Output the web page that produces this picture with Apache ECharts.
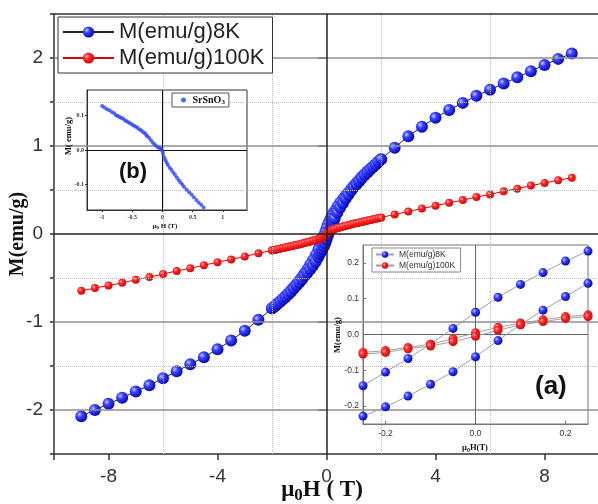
<!DOCTYPE html>
<html>
<head>
<meta charset="utf-8">
<script src="https://cdn.jsdelivr.net/npm/echarts@6/dist/echarts.min.js"></script>
<style>
  html, body { margin: 0; padding: 0; background: #fff; }
  #chart { width: 598px; height: 504px; }
</style>
</head>
<body>
<div id="chart"></div>
<script>
// Magnetisation loops M(H): field sweep down from +9 T to -9 T
const fieldDown = [9, 8.5, 8, 7.5, 7, 6.5, 6, 5.5, 5, 4.5, 4, 3.5, 3, 2.5, 2,
  1.9, 1.8, 1.7, 1.6, 1.5, 1.4, 1.3, 1.2, 1.1, 1, 0.9, 0.8, 0.7, 0.6, 0.5, 0.4, 0.3,
  0.25, 0.2, 0.15, 0.1, 0.05, 0, -0.05, -0.1, -0.15, -0.2, -0.25,
  -0.3, -0.4, -0.5, -0.6, -0.7, -0.8, -0.9, -1, -1.1, -1.2, -1.3, -1.4, -1.5, -1.6, -1.7, -1.8, -1.9,
  -2, -2.5, -3, -3.5, -4, -4.5, -5, -5.5, -6, -6.5, -7, -7.5, -8, -8.5, -9];
const m8kDown = [2.05, 1.99, 1.92, 1.85, 1.78, 1.71, 1.64, 1.57, 1.49, 1.41, 1.32, 1.22, 1.11, 0.98, 0.85,
  0.82, 0.79, 0.765, 0.74, 0.71, 0.68, 0.65, 0.615, 0.58, 0.545, 0.51, 0.47, 0.435, 0.395, 0.355, 0.31, 0.26,
  0.233, 0.205, 0.173, 0.14, 0.104, 0.062, 0.017, -0.027, -0.067, -0.105, -0.143,
  -0.18, -0.245, -0.3, -0.35, -0.4, -0.445, -0.49, -0.53, -0.57, -0.605, -0.64, -0.675, -0.705, -0.735, -0.765, -0.79, -0.82,
  -0.845, -0.975, -1.1, -1.21, -1.31, -1.4, -1.48, -1.56, -1.64, -1.72, -1.79, -1.86, -1.93, -2.0, -2.07];
const m100kDown = [0.64, 0.61, 0.58, 0.55, 0.515, 0.485, 0.45, 0.42, 0.385, 0.355, 0.32, 0.29, 0.255, 0.222, 0.188,
  0.181, 0.174, 0.167, 0.16, 0.153, 0.146, 0.139, 0.132, 0.125, 0.118, 0.11, 0.102, 0.094, 0.086, 0.078, 0.07, 0.061,
  0.055, 0.05, 0.041, 0.032, 0.02, 0.005, -0.012, -0.027, -0.036, -0.045, -0.05,
  -0.056, -0.066, -0.075, -0.084, -0.092, -0.1, -0.108, -0.116, -0.123, -0.13, -0.137, -0.144, -0.151, -0.158, -0.165, -0.172, -0.179,
  -0.186, -0.22, -0.255, -0.29, -0.32, -0.355, -0.39, -0.42, -0.455, -0.49, -0.52, -0.555, -0.585, -0.615, -0.645];

// Return sweep from -2 T to +2 T (outside this range the branches coincide)
const fieldUp = [-2, -1.9, -1.8, -1.7, -1.6, -1.5, -1.4, -1.3, -1.2, -1.1, -1, -0.9, -0.8, -0.7, -0.6, -0.5, -0.4, -0.3,
  -0.25, -0.2, -0.15, -0.1, -0.05, 0, 0.05, 0.1, 0.15, 0.2, 0.25,
  0.3, 0.4, 0.5, 0.6, 0.7, 0.8, 0.9, 1, 1.1, 1.2, 1.3, 1.4, 1.5, 1.6, 1.7, 1.8, 1.9, 2];
const m8kUp = [-0.845, -0.82, -0.795, -0.77, -0.74, -0.715, -0.685, -0.655, -0.62, -0.585, -0.55, -0.515, -0.475, -0.44, -0.4, -0.36, -0.315, -0.262,
  -0.228, -0.202, -0.172, -0.139, -0.104, -0.062, -0.017, 0.028, 0.068, 0.106, 0.143,
  0.178, 0.243, 0.3, 0.35, 0.4, 0.445, 0.49, 0.53, 0.565, 0.6, 0.635, 0.67, 0.7, 0.73, 0.76, 0.79, 0.82, 0.85];
const m100kUp = [-0.188, -0.181, -0.174, -0.167, -0.16, -0.153, -0.146, -0.139, -0.132, -0.125, -0.118, -0.11, -0.102, -0.094, -0.086, -0.078, -0.07, -0.061,
  -0.055, -0.05, -0.04, -0.032, -0.02, -0.005, 0.012, 0.027, 0.036, 0.045, 0.05,
  0.056, 0.066, 0.075, 0.084, 0.092, 0.1, 0.108, 0.116, 0.123, 0.13, 0.137, 0.144, 0.151, 0.158, 0.165, 0.172, 0.179, 0.186];

// SrSnO3 reference sample
const srField = [-1, -0.96, -0.92, -0.88, -0.84, -0.8, -0.77, -0.74, -0.71, -0.68, -0.65, -0.62, -0.59, -0.56, -0.53, -0.5,
  -0.47, -0.44, -0.41, -0.38, -0.35, -0.32, -0.29, -0.27, -0.25, -0.22, -0.19, -0.16, -0.13, -0.1, -0.07, -0.04, -0.02,
  0, 0.01, 0.03, 0.05, 0.07, 0.09, 0.12, 0.15, 0.18, 0.21, 0.24, 0.27, 0.3, 0.33, 0.36, 0.4, 0.44, 0.48, 0.52, 0.56, 0.6, 0.64, 0.68, 0.72];
const srMoment = [0.128, 0.124, 0.119, 0.116, 0.111, 0.107, 0.101, 0.099, 0.096, 0.093, 0.091, 0.086, 0.084, 0.08, 0.077, 0.074,
  0.071, 0.068, 0.064, 0.06, 0.057, 0.052, 0.049, 0.044, 0.04, 0.035, 0.028, 0.021, 0.016, 0.011, 0.007, 0.005, 0.003,
  -0.004, -0.012, -0.022, -0.03, -0.037, -0.044, -0.052, -0.058, -0.066, -0.073, -0.081, -0.088, -0.095, -0.101, -0.108, -0.116, -0.123, -0.13, -0.138, -0.146, -0.153, -0.16, -0.168, -0.176];

// Tick labels
const mainXLabels = [-8, -4, 0, 4, 8];
const mainXTicks = [-10, -8, -4, 0, 4, 8, 10];
const mainYLabels = [-2, -1, 0, 1, 2];
const insetAXLabels = [-0.2, 0, 0.2];
const insetAYLabels = [-0.2, -0.1, 0, 0.1, 0.2];
const insetBXLabels = [-1, -0.5, 0, 0.5, 1];
const insetBYLabels = [-0.1, 0, 0.1];

const name8k = 'M(emu/g)8K';
const name100k = 'M(emu/g)100K';
const name8kIn = 'M(emu/g)8K ';
const name100kIn = 'M(emu/g)100K ';

const pairs = (xs, ys) => xs.map((x, i) => [x, ys[i]]);

const blueBall = { type: 'radial', x: 0.35, y: 0.35, r: 0.7,
  colorStops: [{ offset: 0, color: '#c6caff' }, { offset: 0.35, color: '#3a44ff' }, { offset: 1, color: '#0000b8' }] };
const redBall = { type: 'radial', x: 0.35, y: 0.35, r: 0.7,
  colorStops: [{ offset: 0, color: '#ffb8b8' }, { offset: 0.35, color: '#ff2a2a' }, { offset: 1, color: '#d40000' }] };

const serifBold = { fontFamily: 'Liberation Serif', fontWeight: 'bold', fill: '#111', color: '#111' };
const noLine = { show: false };

function vline(v, color, type, width) { return { xAxis: v, lineStyle: { color: color, type: type, width: width } }; }
function hline(v, color, type, width) { return { yAxis: v, lineStyle: { color: color, type: type, width: width } }; }
function guide(xi, yi, z, lines) {
  return { type: 'line', xAxisIndex: xi, yAxisIndex: yi, data: [], z: z, silent: true,
    markLine: { silent: true, symbol: 'none', label: { show: false }, animation: false,
      emphasis: { disabled: true }, data: lines } };
}

function loopSeries(name, xi, yi, xs, ys, lineColor, ball, size, z) {
  return { name: name, type: 'line', xAxisIndex: xi, yAxisIndex: yi, data: pairs(xs, ys), z: z,
    symbol: 'circle', symbolSize: size, showSymbol: true,
    lineStyle: { color: lineColor, width: 1 }, itemStyle: { color: ball }, emphasis: { disabled: true } };
}

// axis titles drawn as text blocks centred on (x, y)
function title(x, y, text, rich, rotate) {
  return { type: 'text', x: x, y: y, rotation: rotate ? Math.PI / 2 : 0, z: 10, silent: true,
    style: { text: text, rich: rich, align: 'center', verticalAlign: 'middle', fill: '#111' } };
}
const fieldRich = (big, small, drop) => ({
  a: Object.assign({ fontSize: big }, serifBold),
  s: Object.assign({ fontSize: small, padding: [drop, 0, 0, 0] }, serifBold)
});

const option = {
  animation: false,
  backgroundColor: '#fff',
  grid: [
    { left: 54, top: 14, width: 545, height: 440, containLabel: false, outerBoundsMode: 'none' },
    { left: 363, top: 245, width: 225, height: 179, show: true, backgroundColor: 'rgba(0,0,0,0)', borderColor: '#777', borderWidth: 1, z: 3,
      containLabel: false, outerBoundsMode: 'none' },
    { left: 87, top: 90, width: 160, height: 120, show: true, backgroundColor: '#fff', borderColor: '#333', borderWidth: 1, z: 3,
      containLabel: false, outerBoundsMode: 'none' }
  ],
  legend: [
    { data: [name8k, name100k], orient: 'vertical', left: 58, top: 17, itemWidth: 51, itemHeight: 14, itemGap: 4,
      padding: [4, 8, 4, 4], borderColor: '#333', borderWidth: 1, backgroundColor: '#fff', z: 8,
      textStyle: { fontSize: 22, fontFamily: 'Liberation Sans', color: '#222' } },
    { data: [name8kIn, name100kIn], orient: 'vertical', left: 372, top: 248, itemWidth: 18, itemHeight: 8, itemGap: 2,
      padding: [2, 3, 2, 3], borderColor: '#888', borderWidth: 1, backgroundColor: '#fff', z: 8,
      textStyle: { fontSize: 8.5, fontFamily: 'Liberation Sans', color: '#333' } },
    { data: ['SrSnO3'], left: 172, top: 93, itemWidth: 8, itemHeight: 5, padding: [2, 4, 1, 9],
      borderColor: '#555', borderWidth: 1, backgroundColor: '#fff', z: 8,
      formatter: () => '{a|SrSnO}{s|3}',
      textStyle: { rich: { a: Object.assign({ fontSize: 10 }, serifBold), s: Object.assign({ fontSize: 7, padding: [5, 0, 0, 0] }, serifBold) } } }
  ],
  xAxis: [
    { type: 'value', gridIndex: 0, min: -10, max: 10, z: 2,
      axisLine: { onZero: false, lineStyle: { color: '#333', width: 1.5 } },
      axisTick: { customValues: mainXTicks, length: 6, lineStyle: { color: '#333', width: 1.5 } },
      axisLabel: { customValues: mainXLabels, fontSize: 19, fontFamily: 'Liberation Sans', color: '#333', margin: 13 },
      splitLine: noLine },
    { type: 'value', gridIndex: 0, min: -10, max: 10, position: 'top', z: 2,
      axisLine: { onZero: false, lineStyle: { color: '#333', width: 1.5 } },
      axisTick: noLine, axisLabel: noLine, splitLine: noLine },
    { type: 'value', gridIndex: 1, min: -0.25, max: 0.25, z: 4,
      axisLine: { onZero: false, lineStyle: { color: '#777', width: 1 } },
      axisTick: { customValues: insetAXLabels, inside: true, length: 3, lineStyle: { color: '#777' } },
      axisLabel: { customValues: insetAXLabels, formatter: v => v.toFixed(1), fontSize: 8.5, fontFamily: 'Liberation Sans', color: '#333', margin: 5 },
      splitLine: noLine },
    { type: 'value', gridIndex: 2, min: -1.25, max: 1.4, z: 4,
      axisLine: { onZero: false, lineStyle: { color: '#333', width: 1 } },
      axisTick: { customValues: insetBXLabels, length: 2, lineStyle: { color: '#333' } },
      axisLabel: { customValues: insetBXLabels, formatter: v => String(v), fontSize: 6, fontFamily: 'Liberation Serif', fontWeight: 'bold', color: '#333', margin: 4 },
      splitLine: noLine }
  ],
  yAxis: [
    { type: 'value', gridIndex: 0, min: -2.5, max: 2.5, interval: 0.5, z: 2,
      axisLine: { onZero: false, lineStyle: { color: '#333', width: 1.5 } },
      axisTick: { length: 4, lineStyle: { color: '#333', width: 1.5 } },
      axisLabel: { customValues: mainYLabels, fontSize: 19, fontFamily: 'Liberation Sans', color: '#333', margin: 11 },
      splitLine: noLine },
    { type: 'value', gridIndex: 0, min: -2.5, max: 2.5, position: 'left', z: 2,
      axisLine: { show: false },
      axisTick: { customValues: mainYLabels, length: 8, lineStyle: { color: '#333', width: 1.5 } },
      axisLabel: noLine, splitLine: noLine },
    { type: 'value', gridIndex: 1, min: -0.25, max: 0.25, z: 4,
      axisLine: { onZero: false, lineStyle: { color: '#777', width: 1 } },
      axisTick: { customValues: insetAYLabels, inside: true, length: 3, lineStyle: { color: '#777' } },
      axisLabel: { customValues: insetAYLabels, formatter: v => v.toFixed(1), fontSize: 8.5, fontFamily: 'Liberation Sans', color: '#333', margin: 4 },
      splitLine: noLine },
    { type: 'value', gridIndex: 2, min: -0.175, max: 0.175, z: 4,
      axisLine: { onZero: false, lineStyle: { color: '#333', width: 1 } },
      axisTick: { customValues: insetBYLabels, length: 2, lineStyle: { color: '#333' } },
      axisLabel: { customValues: insetBYLabels, formatter: v => v.toFixed(1), fontSize: 6, fontFamily: 'Liberation Serif', fontWeight: 'bold', color: '#333', margin: 3 },
      splitLine: noLine }
  ],
  series: [
    // main panel guide lines
    guide(0, 0, 1, [
      vline(-6, '#bdbdbd', 'dotted', 1), vline(-2, '#bdbdbd', 'dotted', 1),
      vline(2, '#bdbdbd', 'dotted', 1), vline(6, '#bdbdbd', 'dotted', 1),
      hline(-1.5, '#bdbdbd', 'dotted', 1), hline(-0.5, '#bdbdbd', 'dotted', 1),
      hline(0.5, '#bdbdbd', 'dotted', 1), hline(1.5, '#bdbdbd', 'dotted', 1),
      hline(-2, '#8f8f8f', 'solid', 1.5), hline(-1, '#8f8f8f', 'solid', 1.5),
      hline(1, '#8f8f8f', 'solid', 1.5), hline(2, '#8f8f8f', 'solid', 1.5),
      vline(0, '#222', 'solid', 1.5), hline(0, '#222', 'solid', 1.5)
    ]),
    loopSeries(name8k, 0, 0, fieldDown, m8kDown, '#222', blueBall, 12, 2),
    loopSeries(name8k, 0, 0, fieldUp, m8kUp, '#222', blueBall, 12, 2),
    loopSeries(name100k, 0, 0, fieldDown, m100kDown, '#e00000', redBall, 8, 2),
    loopSeries(name100k, 0, 0, fieldUp, m100kUp, '#e00000', redBall, 8, 2),

    // inset (a): low-field part of the same loops
    guide(2, 2, 4, [vline(0, '#666', 'solid', 1), hline(0, '#666', 'solid', 1)]),
    loopSeries(name8kIn, 2, 2, fieldDown, m8kDown, '#a0a0a0', blueBall, 9, 5),
    loopSeries(name8kIn, 2, 2, fieldUp, m8kUp, '#a0a0a0', blueBall, 9, 5),
    loopSeries(name100kIn, 2, 2, fieldDown, m100kDown, '#a0a0a0', redBall, 9, 5),
    loopSeries(name100kIn, 2, 2, fieldUp, m100kUp, '#a0a0a0', redBall, 9, 5),

    // inset (b): SrSnO3
    guide(3, 3, 5, [vline(0, '#111', 'solid', 1), hline(0, '#111', 'solid', 1)]),
    { name: 'SrSnO3', type: 'scatter', xAxisIndex: 3, yAxisIndex: 3, data: pairs(srField, srMoment), z: 6,
      symbol: 'circle', symbolSize: 4, itemStyle: { color: '#2a46ff' }, emphasis: { disabled: true } }
  ],
  graphic: [
    title(322, 490, '{a|μ}{s|0}{a|H ( T)}', fieldRich(23, 17, 12), false),
    title(18, 234, '{a|M(emu/g)}', { a: Object.assign({ fontSize: 20 }, serifBold) }, true),
    title(475, 448, '{a|μ}{s|0}{a|H(T)}', fieldRich(8.5, 6, 5), false),
    title(338, 335, '{a|M(emu/g)}', { a: Object.assign({ fontSize: 8.5 }, serifBold) }, true),
    title(165, 226, '{a|μ}{s|0}{a| H (T)}', fieldRich(7, 5, 4), false),
    title(69, 136, '{a|M( emu/g)}', { a: Object.assign({ fontSize: 8.5 }, serifBold) }, true),
    { type: 'text', left: 535, top: 374, z: 10,
      style: { text: '(a)', fontSize: 26, fontWeight: 'bold', fontFamily: 'Liberation Sans', fill: '#111' } },
    { type: 'text', left: 119, top: 161, z: 10,
      style: { text: '(b)', fontSize: 22, fontWeight: 'bold', fontFamily: 'Liberation Sans', fill: '#111' } }
  ]
};

const chart = echarts.init(document.getElementById('chart'), null, { renderer: 'canvas' });
chart.setOption(option);
</script>
</body>
</html>
